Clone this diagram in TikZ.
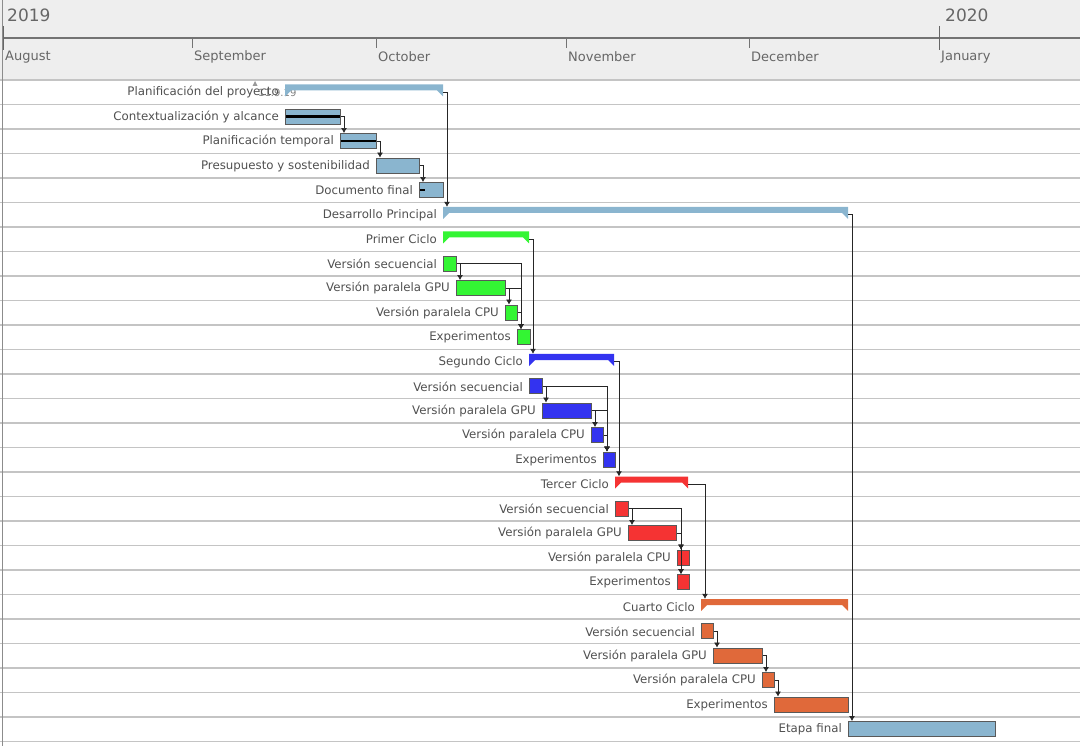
\documentclass[tikz,border=0pt]{standalone}
\usepackage{fontspec}
\setmainfont{DejaVu Sans}
\usetikzlibrary{positioning,arrows.meta}
\definecolor{hdrbg}{HTML}{EEEEEE}
\definecolor{gridln}{HTML}{C4C4C4}
\definecolor{txtgray}{HTML}{505050}
\definecolor{barblue}{HTML}{8AB5CF}
\definecolor{cycgreen}{HTML}{33F533}
\definecolor{cycblue}{HTML}{3333F0}
\definecolor{cycred}{HTML}{F53333}
\definecolor{cycorange}{HTML}{E0693A}
\begin{document}
\begin{tikzpicture}[x=1pt,y=-1pt,
  every node/.style={font=\fontsize{11.8pt}{14pt}\selectfont,text=txtgray,inner sep=0pt},
  taskbar/.style={draw=black!65,line width=0.9pt,minimum height=15pt,anchor=west},
  sumbar/.style={minimum height=15pt,anchor=west,path picture={
    \fill[#1] (path picture bounding box.north west) -- (path picture bounding box.north east)
      -- ++(0pt,-12pt) -- ++(-6pt,6pt)
      -- ([xshift=6pt,yshift=-6pt]path picture bounding box.north west) -- ++(-6pt,-6pt) -- cycle;}},
  lbl/.style={left=6pt of #1,yshift=-0.5pt},
  dep/.style={draw=black!85,line width=0.7pt,-{Latex[length=5pt,width=6pt]}},
  prog/.style={line width=2.5pt,black},
  gridline/.style={gridln,line width=1.1pt},
  month/.style={font=\fontsize{13pt}{15pt}\selectfont,text=black!60,anchor=west},
  year/.style={font=\fontsize{17pt}{19pt}\selectfont,text=black!60,anchor=west}]
\useasboundingbox (0,0) rectangle (1080,746);
\fill[hdrbg] (0,0) rectangle (1080,79);
\draw[black!55,line width=1.1pt] (3,38) -- (1080,38);
\foreach \k in {0,...,27}
  \draw[gridline] (0,{80+24.5*\k}) -- (1080,{80+24.5*\k});
\draw[black!45,line width=1pt] (2.5,0) -- (2.5,746);
\foreach \mx in {3,192,376,566,749,939}
  \draw[black!55,line width=0.9pt] (\mx,38) -- (\mx,48);
\foreach \yx in {3,939}
  \draw[black!60,line width=0.9pt] (\yx,26) -- (\yx,50);
\node[year] (y19) at (7,15) {2019};
\node[year] (y20) at (945,15) {2020};
\node[month] (aug) at (5,57) {August};
\node[month] (sep) at (194,57) {September};
\node[month] (oct) at (378,57) {October};
\node[month] (nov) at (568,57) {November};
\node[month] (dec) at (751,57) {December};
\node[month] (jan) at (941,57) {January};

\node[font=\fontsize{10pt}{12pt}\selectfont,text=black!50,anchor=west] (today) at (258,93) {11.9.19};
\fill[black!40] (252.5,86) -- (257.5,86) -- (255,81) -- cycle;

\node[sumbar=barblue,minimum width=158pt] (plan) at (285,92) {};
\node[taskbar,fill=barblue,minimum width=55pt] (ctx) at (285,116.5) {};
\node[taskbar,fill=barblue,minimum width=36pt] (temp) at (340,141) {};
\node[taskbar,fill=barblue,minimum width=43pt] (pres) at (376,165.5) {};
\node[taskbar,fill=barblue,minimum width=24pt] (doc) at (419,190) {};
\node[sumbar=barblue,minimum width=405pt] (dev) at (443,214.5) {};
\node[sumbar=cycgreen,minimum width=86pt] (c1) at (443,239) {};
\node[taskbar,fill=cycgreen,minimum width=13pt] (c1seq) at (443,263.5) {};
\node[taskbar,fill=cycgreen,minimum width=49pt] (c1gpu) at (456,288) {};
\node[taskbar,fill=cycgreen,minimum width=12pt] (c1cpu) at (505,312.5) {};
\node[taskbar,fill=cycgreen,minimum width=13pt] (c1exp) at (517,337) {};
\node[sumbar=cycblue,minimum width=85pt] (c2) at (529,361.5) {};
\node[taskbar,fill=cycblue,minimum width=13pt] (c2seq) at (529,386) {};
\node[taskbar,fill=cycblue,minimum width=49pt] (c2gpu) at (542,410.5) {};
\node[taskbar,fill=cycblue,minimum width=12pt] (c2cpu) at (591,435) {};
\node[taskbar,fill=cycblue,minimum width=12pt] (c2exp) at (603,459.5) {};
\node[sumbar=cycred,minimum width=73pt] (c3) at (615,484) {};
\node[taskbar,fill=cycred,minimum width=13pt] (c3seq) at (615,508.5) {};
\node[taskbar,fill=cycred,minimum width=48pt] (c3gpu) at (628,533) {};
\node[taskbar,fill=cycred,minimum width=12pt] (c3cpu) at (677,557.5) {};
\node[taskbar,fill=cycred,minimum width=12pt] (c3exp) at (677,582) {};
\node[sumbar=cycorange,minimum width=147pt] (c4) at (701,606.5) {};
\node[taskbar,fill=cycorange,minimum width=12pt] (c4seq) at (701,631) {};
\node[taskbar,fill=cycorange,minimum width=49pt] (c4gpu) at (713,655.5) {};
\node[taskbar,fill=cycorange,minimum width=12pt] (c4cpu) at (762,680) {};
\node[taskbar,fill=cycorange,minimum width=74pt] (c4exp) at (774,704.5) {};
\node[taskbar,fill=barblue,minimum width=147pt] (fin) at (848,729) {};

\draw[prog] ([xshift=1pt]ctx.west) -- ([xshift=-1pt]ctx.east);
\draw[prog] ([xshift=1pt]temp.west) -- ([xshift=-1pt]temp.east);
\draw[prog] ([xshift=1pt]doc.west) -- ([xshift=6pt]doc.west);

\node[lbl=plan] (plan-l) {Planificación del proyecto};
\node[lbl=ctx] (ctx-l) {Contextualización y alcance};
\node[lbl=temp] (temp-l) {Planificación temporal};
\node[lbl=pres] (pres-l) {Presupuesto y sostenibilidad};
\node[lbl=doc] (doc-l) {Documento final};
\node[lbl=dev] (dev-l) {Desarrollo Principal};
\node[lbl=c1] (c1-l) {Primer Ciclo};
\node[lbl=c1seq] (c1seq-l) {Versión secuencial};
\node[lbl=c1gpu] (c1gpu-l) {Versión paralela GPU};
\node[lbl=c1cpu] (c1cpu-l) {Versión paralela CPU};
\node[lbl=c1exp] (c1exp-l) {Experimentos};
\node[lbl=c2] (c2-l) {Segundo Ciclo};
\node[lbl=c2seq] (c2seq-l) {Versión secuencial};
\node[lbl=c2gpu] (c2gpu-l) {Versión paralela GPU};
\node[lbl=c2cpu] (c2cpu-l) {Versión paralela CPU};
\node[lbl=c2exp] (c2exp-l) {Experimentos};
\node[lbl=c3] (c3-l) {Tercer Ciclo};
\node[lbl=c3seq] (c3seq-l) {Versión secuencial};
\node[lbl=c3gpu] (c3gpu-l) {Versión paralela GPU};
\node[lbl=c3cpu] (c3cpu-l) {Versión paralela CPU};
\node[lbl=c3exp] (c3exp-l) {Experimentos};
\node[lbl=c4] (c4-l) {Cuarto Ciclo};
\node[lbl=c4seq] (c4seq-l) {Versión secuencial};
\node[lbl=c4gpu] (c4gpu-l) {Versión paralela GPU};
\node[lbl=c4cpu] (c4cpu-l) {Versión paralela CPU};
\node[lbl=c4exp] (c4exp-l) {Experimentos};
\node[lbl=fin] (fin-l) {Etapa final};

\draw[dep] (ctx.east) -| ([xshift=4pt]temp.north west);
\draw[dep] (temp.east) -| ([xshift=4pt]pres.north west);
\draw[dep] (pres.east) -| ([xshift=4pt]doc.north west);
\draw[dep] (plan.east) -| ([xshift=4pt]dev.north west);
\draw[dep] (c1seq.east) -| ([xshift=4pt]c1gpu.north west);
\draw[dep] (c1seq.east) -| ([xshift=4pt]c1exp.north west);
\draw[dep] (c1gpu.east) -| ([xshift=4pt]c1cpu.north west);
\draw[dep] (c1gpu.east) -| ([xshift=4pt]c1exp.north west);
\draw[dep] (c1cpu.east) -| ([xshift=4pt]c1exp.north west);
\draw[dep] (c1.east) -| ([xshift=4pt]c2.north west);
\draw[dep] (c2seq.east) -| ([xshift=4pt]c2gpu.north west);
\draw[dep] (c2seq.east) -| ([xshift=4pt]c2exp.north west);
\draw[dep] (c2gpu.east) -| ([xshift=4pt]c2cpu.north west);
\draw[dep] (c2gpu.east) -| ([xshift=4pt]c2exp.north west);
\draw[dep] (c2cpu.east) -| ([xshift=4pt]c2exp.north west);
\draw[dep] (c2.east) -| ([xshift=4pt]c3.north west);
\draw[dep] (c3seq.east) -| ([xshift=4pt]c3gpu.north west);
\draw[dep] (c3seq.east) -| ([xshift=4pt]c3cpu.north west);
\draw[dep] (c3seq.east) -| ([xshift=4pt]c3exp.north west);
\draw[dep] (c3gpu.east) -| ([xshift=4pt]c3cpu.north west);
\draw[dep] (c3gpu.east) -| ([xshift=4pt]c3exp.north west);
\draw[dep] (c3.east) -| ([xshift=4pt]c4.north west);
\draw[dep] (c4seq.east) -| ([xshift=4pt]c4gpu.north west);
\draw[dep] (c4gpu.east) -| ([xshift=4pt]c4cpu.north west);
\draw[dep] (c4cpu.east) -| ([xshift=4pt]c4exp.north west);
\draw[dep] (dev.east) -| ([xshift=4pt]fin.north west);
\end{tikzpicture}
\end{document}
